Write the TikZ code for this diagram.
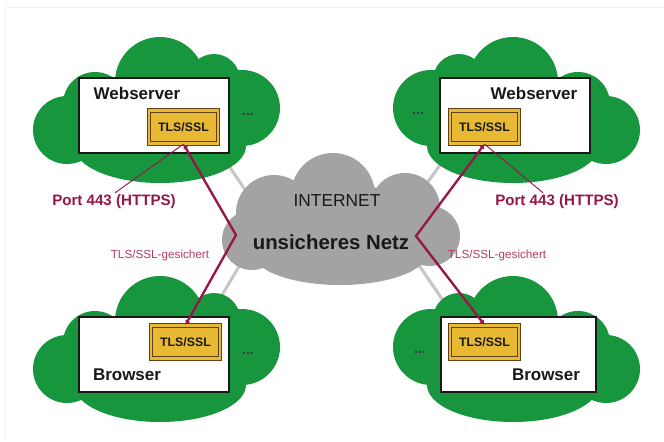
\documentclass[tikz,border=0pt]{standalone}
\usepackage{fontspec}
\setmainfont{Liberation Sans}
\usetikzlibrary{arrows.meta,calc}

\definecolor{netgreen}{RGB}{24,150,62}
\definecolor{netgray}{RGB}{163,163,163}
\definecolor{linkgray}{RGB}{198,198,198}
\definecolor{secure}{RGB}{150,22,72}
\definecolor{securelight}{RGB}{178,60,105}
\definecolor{tlsfill}{RGB}{232,186,52}
\definecolor{tlsedge}{RGB}{95,65,25}
\definecolor{ink}{RGB}{25,25,25}

% puffs of one site cloud, drawn around the upper left site
\newcommand\sitepuffs{%
  \fill[netgreen]
    (160,82) circle [radius=45]
    (214,80) circle [radius=26]
    (242,108) circle [radius=38]
    (160,146) ellipse [x radius=86, y radius=37]
    (67,130) circle [radius=34]
    (95,104) circle [radius=32]
    (160,115) circle [radius=55];}

\tikzset{
  hostbox/.style={draw=ink, line width=0.9pt, fill=white, minimum height=2.25cm},
  tlsbox/.style={draw=tlsedge, double=tlsfill, double distance=2.4pt, line width=0.7pt,
    fill=tlsfill, minimum width=2.07cm, minimum height=1.0cm, inner sep=0pt,
    font=\fontsize{10.5}{12}\selectfont\bfseries, text=ink},
  hostname/.style={font=\fontsize{14.5}{16}\selectfont\bfseries, text=ink},
  portlabel/.style={font=\fontsize{12.9}{15}\selectfont\bfseries, text=secure},
  securelabel/.style={font=\fontsize{10}{12}\selectfont, text=securelight},
  more/.style={font=\fontsize{12}{12}\selectfont\bfseries, text=ink!85},
  link/.style={draw=linkgray, line width=2.6pt},
  tunnel/.style={draw=secure, line width=2pt, line join=miter,
    {Latex[length=4pt,width=5pt]}-{Latex[length=4pt,width=5pt]}},
  leader/.style={draw=secure, line width=0.8pt},
}

\begin{document}
\begin{tikzpicture}[x=0.03cm, y=-0.03cm]
\useasboundingbox (0,0) rectangle (664,441);

% faint outer frame
\draw[black!6, line width=0.8pt] (5,441) -- (5,7) -- (664,7);

% links from each site into the internet
\coordinate (lTLa) at (225,160);  \coordinate (lTLb) at (262,215);
\coordinate (lTRa) at (445,158);  \coordinate (lTRb) at (405,214);
\coordinate (lBLa) at (250,248);  \coordinate (lBLb) at (212,312);
\coordinate (lBRa) at (412,255);  \coordinate (lBRb) at (455,318);
\draw[link] (lTLa) -- (lTLb);
\draw[link] (lTRa) -- (lTRb);
\draw[link] (lBLa) -- (lBLb);
\draw[link] (lBRa) -- (lBRb);

% site clouds
\sitepuffs
\begin{scope}[shift={(673,0)}, xscale=-1] \sitepuffs \end{scope}
\begin{scope}[shift={(0,239)}] \sitepuffs \end{scope}
\begin{scope}[shift={(673,239)}, xscale=-1] \sitepuffs \end{scope}

% internet cloud
\fill[netgray]
  (333,195) circle [radius=42]
  (274,213) circle [radius=38]
  (252,240) circle [radius=30]
  (405,208) circle [radius=35]
  (430,236) circle [radius=30]
  (340,252) ellipse [x radius=88, y radius=33]
  (338,228) circle [radius=55];
\node[font=\fontsize{14.8}{17}\selectfont, text=ink] (inet) at (337,201) {INTERNET};
\node[font=\fontsize{17.4}{20}\selectfont\bfseries, text=ink] (unsafe) at (331,242) {unsicheres Netz};

% hosts
\node[hostbox, minimum width=4.5cm] (wsL) at (154,115.5) {};
\node[hostbox, minimum width=4.5cm] (wsR) at (515,115.5) {};
\node[hostbox, minimum width=4.5cm] (brL) at (154,354.5) {};
\node[hostbox, minimum width=4.65cm] (brR) at (518.5,354.5) {};

\node[hostname] (wsLname) at (137,93) {Webserver};
\node[hostname] (wsRname) at (534,93) {Webserver};
\node[hostname] (brLname) at (127,375) {Browser};
\node[hostname] (brRname) at (546,375) {Browser};

\node[tlsbox] (tlsWL) at (183.5,127) {TLS/SSL};
\node[tlsbox] (tlsWR) at (484.5,127) {TLS/SSL};
\node[tlsbox] (tlsBL) at (185.5,342) {TLS/SSL};
\node[tlsbox] (tlsBR) at (484.5,342) {TLS/SSL};

\node[more] (moreWL) at (248,114) {...};
\node[more] (moreWR) at (418,113) {...};
\node[more] (moreBL) at (248,353) {...};
\node[more] (moreBR) at (420,352) {...};

% secured connections through the internet
\coordinate (kinkL) at (236,235);
\coordinate (kinkR) at (416,236);
\draw[tunnel] (tlsWL.south) -- (kinkL) -- (tlsBL.north);
\draw[tunnel] (tlsWR.south) -- (kinkR) -- (tlsBR.north);

\node[securelabel] (secL) at (160,255) {TLS/SSL-gesichert};
\node[securelabel] (secR) at (497,255) {TLS/SSL-gesichert};

% port labels
\node[portlabel] (portL) at (114,202) {Port 443 (HTTPS)};
\node[portlabel] (portR) at (557,202) {Port 443 (HTTPS)};
\draw[leader] ($(portL.north)+(1,2)$) -- (tlsWL.south);
\draw[leader] ($(portR.north)+(-14,2)$) -- (tlsWR.south);
\end{tikzpicture}
\end{document}
